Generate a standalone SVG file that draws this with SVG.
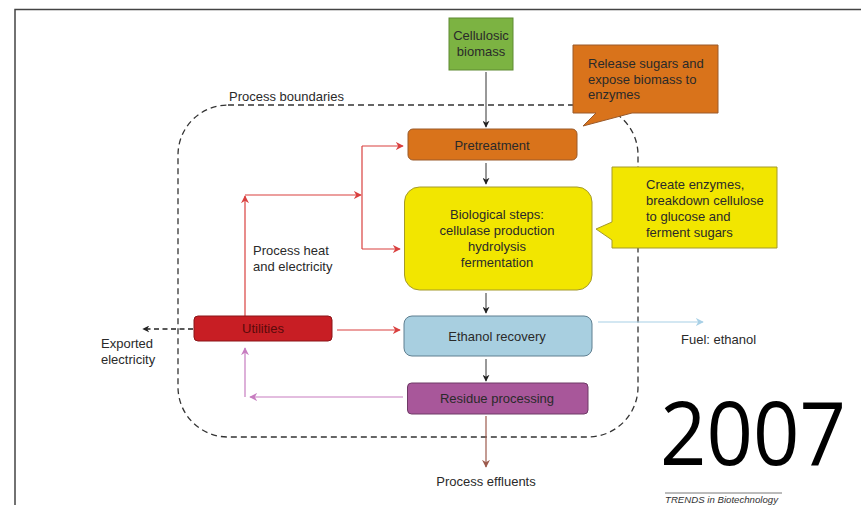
<svg xmlns="http://www.w3.org/2000/svg" width="861" height="505" viewBox="0 0 861 505">
  <style>
    text { font-family: "Liberation Sans", Arial, sans-serif; font-size: 13px; fill: #2a2a2a; }
    .c { text-anchor: middle; }
    .box { stroke-width: 1; }
    .dark { stroke: #333; stroke-width: 1; fill: none; }
    .red { stroke: #d9403f; stroke-width: 1.2; fill: none; }
    .pink { stroke: #c77cc0; stroke-width: 1.2; fill: none; }
  </style>
  <defs>
    <marker id="ah-dark" viewBox="0 0 10 10" refX="9" refY="5" markerWidth="7" markerHeight="7" markerUnits="userSpaceOnUse" orient="auto">
      <path d="M0,0 L10,5 L0,10 L3,5 Z" fill="#222"/>
    </marker>
    <marker id="ah-red" viewBox="0 0 10 10" refX="9" refY="5" markerWidth="8" markerHeight="8" markerUnits="userSpaceOnUse" orient="auto">
      <path d="M0,0 L10,5 L0,10 L3,5 Z" fill="#d9403f"/>
    </marker>
    <marker id="ah-pink" viewBox="0 0 10 10" refX="9" refY="5" markerWidth="8" markerHeight="8" markerUnits="userSpaceOnUse" orient="auto">
      <path d="M0,0 L10,5 L0,10 L3,5 Z" fill="#c77cc0"/>
    </marker>
    <marker id="ah-blue" viewBox="0 0 10 10" refX="9" refY="5" markerWidth="8" markerHeight="8" markerUnits="userSpaceOnUse" orient="auto">
      <path d="M0,0 L10,5 L0,10 L3,5 Z" fill="#a8d0e6"/>
    </marker>
    <marker id="ah-brown" viewBox="0 0 10 10" refX="9" refY="5" markerWidth="8" markerHeight="8" markerUnits="userSpaceOnUse" orient="auto">
      <path d="M0,0 L10,5 L0,10 L3,5 Z" fill="#9c5a4c"/>
    </marker>
  </defs>

  <rect width="861" height="505" fill="#fff"/>
  <!-- page frame -->
  <path d="M15,505 V9.5 H861" fill="none" stroke="#444" stroke-width="1.5"/>

  <!-- process boundary -->
  <g id="boundary">
    <rect x="178" y="105" width="460" height="332" rx="50" fill="none" stroke="#333" stroke-width="1.3" stroke-dasharray="6 4"/>
    <text x="229" y="101">Process boundaries</text>
  </g>

  <!-- connectors -->
  <g id="connectors">
    <path class="dark" d="M486,72 V127" marker-end="url(#ah-dark)"/>
    <path class="dark" d="M486,163 V184" marker-end="url(#ah-dark)"/>
    <path class="dark" d="M486,293 V313" marker-end="url(#ah-dark)"/>
    <path class="dark" d="M486,359 V381" marker-end="url(#ah-dark)"/>
    <path d="M486,416 V467" stroke="#9c5a4c" stroke-width="1.2" fill="none" marker-end="url(#ah-brown)"/>
    <path d="M598,322 H703" stroke="#a8d0e6" stroke-width="1.2" fill="none" marker-end="url(#ah-blue)"/>
    <path d="M193,329 H143" stroke="#222" stroke-width="1.6" stroke-dasharray="5 3.5" fill="none" marker-end="url(#ah-dark)"/>

    <path class="red" d="M245,316 V196" marker-end="url(#ah-red)"/>
    <path class="red" d="M245,195 H361" marker-end="url(#ah-red)"/>
    <path class="red" d="M362,146 V249"/>
    <path class="red" d="M362,146 H403" marker-end="url(#ah-red)"/>
    <path class="red" d="M362,249 H400" marker-end="url(#ah-red)"/>
    <path class="red" d="M337,330 H400" marker-end="url(#ah-red)"/>

    <path class="pink" d="M403,397 H250" marker-end="url(#ah-pink)"/>
    <path class="pink" d="M245,397 V348" marker-end="url(#ah-pink)"/>
  </g>

  <g id="biomass">
    <rect class="box" x="449" y="18" width="64" height="52" fill="#7cb342" stroke="#5e8a32"/>
    <text class="c" x="481" y="40">Cellulosic</text>
    <text class="c" x="481" y="56">biomass</text>
  </g>

  <g id="pretreatment-note">
    <path d="M573,45 H718 V113 H632 L583,126 L596,113 H573 Z" fill="#d9731b" stroke="#9a5a2a" stroke-width="1"/>
    <text x="588" y="68">Release sugars and</text>
    <text x="588" y="84">expose biomass to</text>
    <text x="588" y="99">enzymes</text>
  </g>

  <g id="pretreatment">
    <rect class="box" x="408" y="129" width="169" height="31" rx="5" fill="#d9731b" stroke="#9a5a2a"/>
    <text class="c" x="492" y="150">Pretreatment</text>
  </g>

  <g id="biological">
    <rect class="box" x="404.5" y="187" width="187.5" height="103" rx="15" fill="#f2e600" stroke="#a49a2a"/>
    <text class="c" x="497" y="219">Biological steps:</text>
    <text class="c" x="497" y="235">cellulase production</text>
    <text class="c" x="497" y="251">hydrolysis</text>
    <text class="c" x="497" y="267">fermentation</text>
  </g>

  <g id="biological-note">
    <path d="M612,167 H777 V248 H612 V240 L596,229 L612,222 Z" fill="#f2e600" stroke="#a49a2a" stroke-width="1"/>
    <text x="646" y="189">Create enzymes,</text>
    <text x="646" y="205">breakdown cellulose</text>
    <text x="646" y="221">to glucose and</text>
    <text x="646" y="237">ferment sugars</text>
  </g>

  <g id="ethanol-recovery">
    <rect class="box" x="404" y="316" width="188" height="40" rx="8" fill="#a8cfe0" stroke="#5f7f90"/>
    <text class="c" x="497" y="341">Ethanol recovery</text>
  </g>

  <g id="residue">
    <rect class="box" x="407.5" y="383" width="180.5" height="31" rx="4" fill="#a8579a" stroke="#6e3a66"/>
    <text class="c" x="497" y="403">Residue processing</text>
  </g>

  <g id="utilities">
    <rect class="box" x="194" y="316" width="138" height="25" rx="4" fill="#c81e24" stroke="#8a1518"/>
    <text class="c" x="263" y="333" style="fill:#5a0a0a">Utilities</text>
  </g>

  <g id="labels">
    <text x="253" y="255">Process heat</text>
    <text x="253" y="271">and electricity</text>
    <text x="101" y="348">Exported</text>
    <text x="101" y="364">electricity</text>
    <text x="681" y="344">Fuel: ethanol</text>
    <text class="c" x="486" y="486">Process effluents</text>
  </g>

  <text x="660" y="465" textLength="186" lengthAdjust="spacingAndGlyphs" style="font-family:'Open Sans','Noto Sans',sans-serif;font-size:88px;fill:#000">2007</text>

  <g id="credit">
    <line x1="665" y1="493" x2="782" y2="493" stroke="#555" stroke-width="0.8"/>
    <text x="665" y="503" textLength="113" lengthAdjust="spacingAndGlyphs" style="font-size:9.6px;font-style:italic;fill:#333">TRENDS in Biotechnology</text>
  </g>
</svg>
